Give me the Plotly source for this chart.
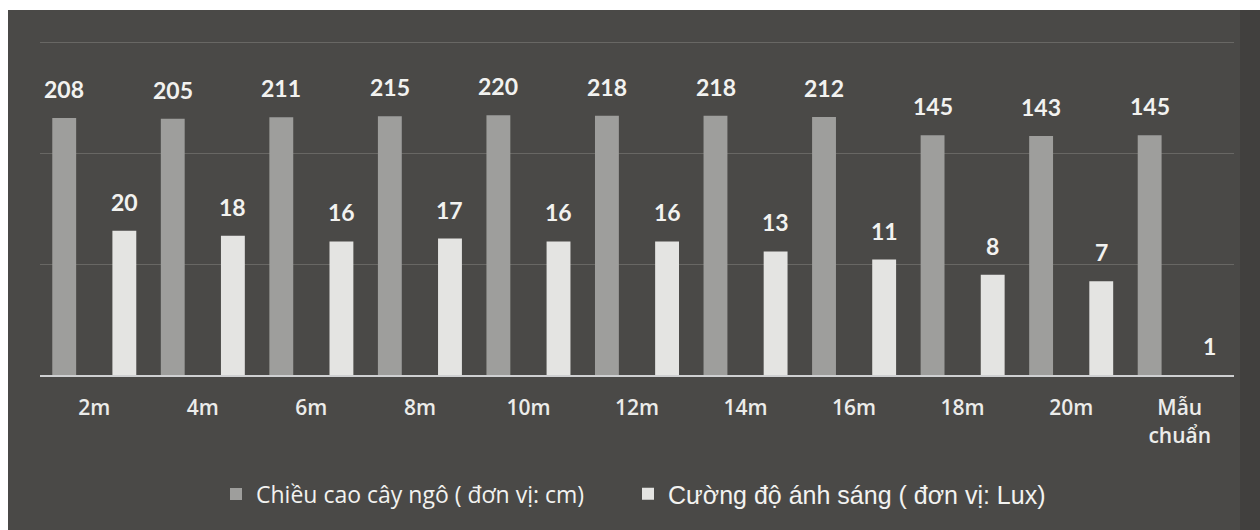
import numpy as np
import plotly.graph_objects as go

# Distance from the light source and measured values
categories = ["2m", "4m", "6m", "8m", "10m", "12m", "14m", "16m", "18m", "20m", "Mẫu<br>chuẩn"]
corn_height = [208, 205, 211, 215, 220, 218, 218, 212, 145, 143, 145]
light_intensity = [20, 18, 16, 17, 16, 16, 13, 11, 8, 7, 1]

name_height = "Chiều cao cây ngô ( đơn vị: cm)"
name_light = "Cường độ ánh sáng ( đơn vị: Lux)"

BG = "#4a4947"
DARK_BAR = "#9e9e9c"
LIGHT_BAR = "#e4e4e2"
TEXT = "#f2f2f0"

BAR_W = 0.22
SHIFT = 0.277  # distance of each bar centre from the category centre

fig = go.Figure()
fig.add_trace(go.Bar(
    x=categories, y=corn_height, name=name_height, legend="legend",
    marker=dict(color=DARK_BAR, line=dict(width=0)),
    width=BAR_W, offset=-SHIFT - BAR_W / 2,
))
fig.add_trace(go.Bar(
    x=categories, y=light_intensity, name=name_light, legend="legend2",
    marker=dict(color=LIGHT_BAR, line=dict(width=0)),
    width=BAR_W, offset=SHIFT - BAR_W / 2,
))

# Value labels above each bar
label_font = dict(family="Lato", size=23, color=TEXT, weight="bold")
for series, dx in ((corn_height, -30), (light_intensity, 30)):
    for cat, v in zip(categories, series):
        fig.add_annotation(
            x=cat, y=np.log10(v), xref="x", yref="y",
            text=str(v), showarrow=False, xshift=dx, yshift=13,
            yanchor="bottom", font=label_font,
        )

# Outer white frame strips (top and left) and the darker right edge
TOP = 39
PLOT_H = 375.0 - TOP
fig.add_shape(type="rect", xref="paper", yref="paper",
              x0=-0.2, x1=1.2, y0=(375 - 10) / PLOT_H, y1=1.3,
              fillcolor="white", line=dict(width=0), layer="below")
fig.add_shape(type="rect", xref="paper", yref="paper",
              x0=-0.2, x1=(8 - 40) / 1194, y0=-0.6, y1=1.3,
              fillcolor="white", line=dict(width=0), layer="below")
fig.add_shape(type="rect", xref="paper", yref="paper",
              x0=(1240 - 40) / 1194, x1=1.2, y0=-0.6, y1=(375 - 10) / PLOT_H,
              fillcolor="rgba(0,0,0,0.12)", line=dict(width=0), layer="below")

legend_y = (375 - 494) / PLOT_H
fig.update_layout(
    width=1260, height=530,
    margin=dict(l=40, r=26, t=TOP, b=155),
    paper_bgcolor=BG, plot_bgcolor="rgba(0,0,0,0)",
    barmode="overlay",
    showlegend=True,
    legend=dict(
        orientation="h", x=(216 - 40) / 1194, xanchor="left",
        y=legend_y, yanchor="middle",
        font=dict(family="Open Sans", size=23, color=TEXT),
        itemwidth=30, bgcolor="rgba(0,0,0,0)",
    ),
    legend2=dict(
        orientation="h", x=(628 - 40) / 1194, xanchor="left",
        y=legend_y, yanchor="middle",
        font=dict(family="Liberation Sans", size=25, color=TEXT),
        itemwidth=30, bgcolor="rgba(0,0,0,0)",
    ),
    xaxis=dict(
        type="category", showgrid=False, showline=True,
        linecolor="#cfd0d2", linewidth=2, ticks="", ticklabelstandoff=13,
        tickfont=dict(family="Open Sans", size=21, color="#ececea", weight=600),
    ),
    yaxis=dict(
        type="log", range=[0, 3.03], dtick=1, showticklabels=False,
        showgrid=True, gridcolor="#686764", gridwidth=1, zeroline=False,
        showline=False,
    ),
)

fig.write_html("out.html")
